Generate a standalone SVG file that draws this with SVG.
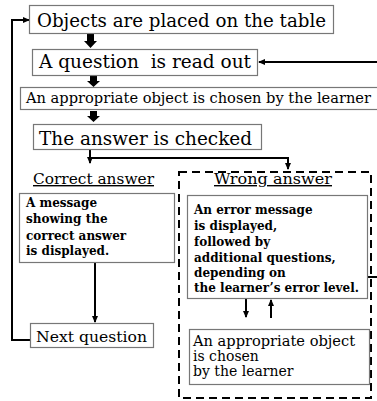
<svg xmlns="http://www.w3.org/2000/svg" width="377" height="401" viewBox="0 0 377 401" font-family="'DejaVu Serif','Liberation Serif',serif">
<defs>
<style>
.box{fill:#fff;stroke:#777;stroke-width:1.2}
text{font-family:"DejaVu Serif","Liberation Serif",serif;fill:#000}
.big{font-size:18px}
.mid{font-size:14px}
.sm{font-size:12px;font-weight:bold}
.ln{fill:none;stroke:#000;stroke-width:2}
.dash{fill:none;stroke:#000;stroke-width:2;stroke-dasharray:8 5}
.blk{fill:#000}
</style>
<marker id="ah" markerWidth="8" markerHeight="8" refX="6" refY="4" orient="auto" markerUnits="userSpaceOnUse">
<path d="M0,1 L7,4 L0,7 Z" fill="#000"/>
</marker>
</defs>
<rect width="377" height="401" fill="#fff"/>

<g id="connectors">
<path class="blk" d="M87,34 H94 V41 H97 L90.5,48 L84,41 H87 Z"/>
<path class="blk" d="M90,76 H97 V81 H100 L93.5,87 L87,81 H90 Z"/>
<path class="blk" d="M90,111 H97 V116 H100 L93.5,122 L87,116 H90 Z"/>
<path class="ln" d="M31,340 H12 V20 H29" marker-end="url(#ah)"/>
<path class="ln" d="M367,277 H382 V62 H259" marker-end="url(#ah)"/>
<path class="ln" d="M90,149 V163" marker-end="url(#ah)"/>
<path class="ln" d="M90,158 H288 V169" marker-end="url(#ah)"/>
<path class="ln" d="M95,262 V322" marker-end="url(#ah)"/>
<path class="ln" d="M246,299 V317" marker-end="url(#ah)"/>
<path class="ln" d="M271,318 V300" marker-end="url(#ah)"/>
</g>

<g id="wrong-group">
<rect class="dash" x="179" y="172" width="192" height="226"/>
</g>

<g id="n1">
<rect class="box" x="29.5" y="5.5" width="304" height="28"/>
<text class="big" x="37" y="27" textLength="289" lengthAdjust="spacingAndGlyphs">Objects are placed on the table</text>
</g>
<g id="n2">
<rect class="box" x="32.5" y="49.5" width="225" height="26"/>
<text class="big" x="39" y="68" textLength="212" lengthAdjust="spacingAndGlyphs" xml:space="preserve">A question  is read out</text>
</g>
<g id="n3">
<rect class="box" x="20.5" y="87.5" width="358" height="22"/>
<text class="mid" x="26" y="103" textLength="345" lengthAdjust="spacingAndGlyphs">An appropriate object is chosen by the learner</text>
</g>
<g id="n4">
<rect class="box" x="33.5" y="124.5" width="228" height="25"/>
<text class="big" x="39" y="145" textLength="213" lengthAdjust="spacingAndGlyphs">The answer is checked</text>
</g>

<g id="correct-label">
<text class="mid" x="33" y="184" textLength="121" lengthAdjust="spacingAndGlyphs" text-decoration="underline">Correct answer</text>
</g>
<g id="wrong-label">
<text class="mid" x="214" y="184" textLength="118" lengthAdjust="spacingAndGlyphs" text-decoration="underline">Wrong answer</text>
</g>

<g id="n-correct">
<rect class="box" x="19.5" y="193.5" width="155" height="69"/>
<text class="sm" x="26" y="207">A message</text>
<text class="sm" x="26" y="223">showing the</text>
<text class="sm" x="26" y="240">correct answer</text>
<text class="sm" x="26" y="255">is displayed.</text>
</g>

<g id="n-error">
<rect class="box" x="187.5" y="195.5" width="180" height="103"/>
<text class="sm" x="194" y="214">An error message</text>
<text class="sm" x="194" y="230">is displayed,</text>
<text class="sm" x="194" y="246">followed by</text>
<text class="sm" x="194" y="262">additional questions,</text>
<text class="sm" x="194" y="277">depending on</text>
<text class="sm" x="194" y="292">the learner’s error level.</text>
</g>

<g id="n-next">
<rect class="box" x="30.5" y="323.5" width="123" height="24"/>
<text font-size="15" x="36" y="342" textLength="111" lengthAdjust="spacingAndGlyphs">Next question</text>
</g>

<g id="n-choose">
<rect class="box" x="189.5" y="329.5" width="180" height="55"/>
<text font-size="14" x="193" y="346" textLength="162" lengthAdjust="spacingAndGlyphs">An appropriate object</text>
<text font-size="14" x="193" y="361">is chosen</text>
<text font-size="14" x="193" y="376">by the learner</text>
</g>
</svg>
